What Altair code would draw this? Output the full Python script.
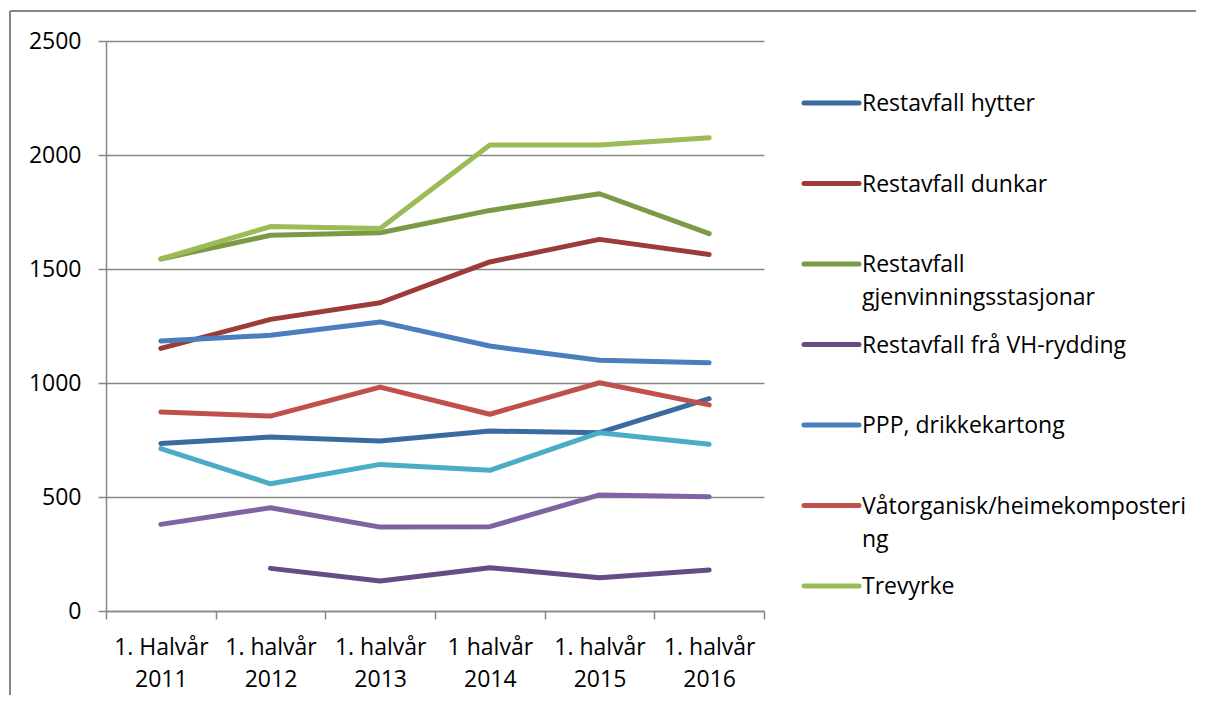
import altair as alt
import pandas as pd

# ---- data ----
categories = ["1. Halvår\n2011", "1. halvår\n2012", "1. halvår\n2013",
              "1 halvår\n2014", "1. halvår\n2015", "1. halvår\n2016"]

restavfall_hytter = [735, 763, 746, 789, 782, 931]
restavfall_dunkar = [1152, 1279, 1352, 1531, 1630, 1564]
restavfall_gjenvinning = [1544, 1648, 1659, 1757, 1830, 1655]
restavfall_vh = [None, 187, 132, 190, 146, 180]
ppp_drikkekartong = [1184, 1209, 1268, 1162, 1100, 1089]
vatorganisk = [873, 855, 982, 863, 1001, 904]
trevyrke = [1544, 1686, 1678, 2044, 2044, 2076]
serie_8 = [712, 558, 643, 617, 782, 731]      # not listed in legend (teal)
serie_9 = [380, 453, 368, 370, 509, 501]      # not listed in legend (light purple)

series_names = ["Restavfall hytter", "Restavfall dunkar",
                "Restavfall gjenvinningsstasjonar", "Restavfall frå VH-rydding",
                "PPP, drikkekartong", "Våtorganisk/heimekompostering",
                "Trevyrke", "Serie 8", "Serie 9"]
series_values = [restavfall_hytter, restavfall_dunkar, restavfall_gjenvinning,
                 restavfall_vh, ppp_drikkekartong, vatorganisk, trevyrke,
                 serie_8, serie_9]
series_colors = ["#3B6A9F", "#9D3B38", "#7B9A45", "#654C86", "#4A7EBF",
                 "#C0504D", "#9BBB59", "#4BACC6", "#8064A2"]

legend_names = series_names[:7]
legend_labels = ["Restavfall hytter", "Restavfall dunkar",
                 "Restavfall\ngjenvinningsstasjonar", "Restavfall frå VH-rydding",
                 "PPP, drikkekartong", "Våtorganisk/heimekomposteri\nng", "Trevyrke"]

y_ticks = [0, 500, 1000, 1500, 2000, 2500]

# ---- tables ----
rows = []
for k, (name, vals) in enumerate(zip(series_names, series_values)):
    for i, v in enumerate(vals):
        if v is not None:
            rows.append({"name": name, "cat": categories[i], "value": v, "k": k})
df = pd.DataFrame(rows)
leg = pd.DataFrame({"name": legend_names, "label": legend_labels})

FONT = "Open Sans"
FS = 23
GRAY = "#878787"
W, H = 658, 570

color_scale = alt.Scale(domain=series_names, range=series_colors)

lines = alt.Chart(df).mark_line(strokeWidth=5, strokeCap="round", strokeJoin="round").encode(
    x=alt.X("cat:N", sort=categories,
            scale=alt.Scale(type="band", paddingInner=0, paddingOuter=0),
            axis=alt.Axis(labelExpr="split(datum.label, '\\n')", labelAngle=0,
                          tickBand="extent", labelAlign="center", labelBaseline="top",
                          labelPadding=17, labelLineHeight=32,
                          labelOverlap=False, tickSize=8, tickColor=GRAY, tickWidth=1.5,
                          domainColor=GRAY, domainWidth=1.5, grid=False, title=None,
                          labelFont=FONT, labelFontSize=FS, labelColor="#000000")),
    y=alt.Y("value:Q", scale=alt.Scale(domain=[0, 2500], nice=False),
            axis=alt.Axis(values=y_ticks, format="d", tickSize=8, tickColor=GRAY,
                          tickWidth=1.5, domainColor=GRAY, domainWidth=1.5,
                          gridColor=GRAY, gridWidth=1.5, labelPadding=17,
                          labelFont=FONT, labelFontSize=FS, labelColor="#000000",
                          title=None, labelOverlap=False, minExtent=90, maxExtent=90)),
    color=alt.Color("name:N", scale=color_scale, legend=None),
    detail="name:N",
)

frame_left = alt.Chart(leg).mark_rule(color=GRAY, strokeWidth=1.5).encode(
    x=alt.value(-96), y=alt.value(-30), y2=alt.value(654))
frame_top = alt.Chart(leg).mark_rule(color=GRAY, strokeWidth=1.5).encode(
    x=alt.value(-96), x2=alt.value(1090), y=alt.value(-30))

main = alt.layer(lines, frame_left, frame_top).properties(width=W, height=H)

ly = alt.Y("name:N", sort=legend_names, axis=None,
           scale=alt.Scale(type="point", range=[62, 545], padding=0))
leg_sym = alt.Chart(leg).mark_rule(strokeWidth=5, strokeCap="round").encode(
    x=alt.value(20), x2=alt.value(75), y=ly,
    color=alt.Color("name:N", scale=color_scale, legend=None))
leg_txt = alt.Chart(leg).mark_text(align="left", baseline="alphabetic", dy=8,
                                   lineBreak="\n", lineHeight=33, font=FONT,
                                   fontSize=FS, color="#000000").encode(
    x=alt.value(78), y=ly, text="label:N")
legend = alt.layer(leg_sym, leg_txt).properties(width=380, height=H)

chart = alt.hconcat(main, legend, spacing=20, bounds="flush").properties(
    padding={"left": 1, "top": 2, "right": 0, "bottom": 0}
).configure(font=FONT).configure_view(stroke=None, strokeWidth=0)

chart.save("out.html", embed_options={"renderer": "svg", "actions": False})
